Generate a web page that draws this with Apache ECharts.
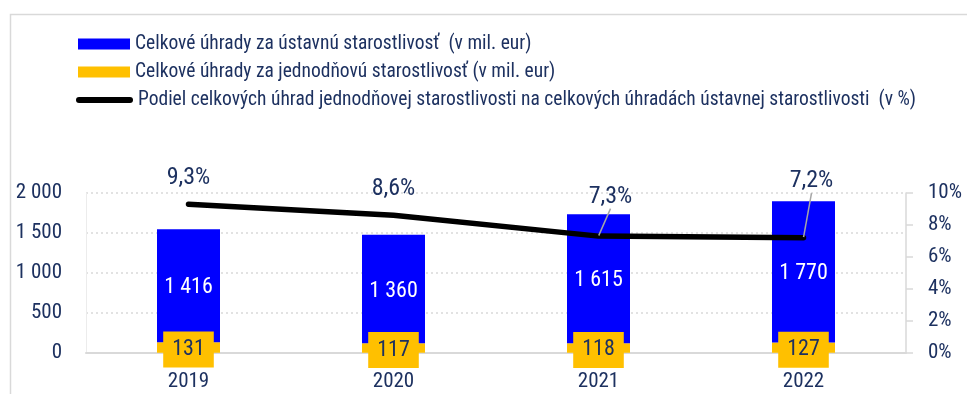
<!DOCTYPE html>
<html>
<head>
<meta charset="utf-8">
<script src="https://cdn.jsdelivr.net/npm/echarts@6/dist/echarts.min.js"></script>
<style>
  html, body { margin: 0; padding: 0; background: #ffffff; }
  #chart { width: 967px; height: 394px; }
</style>
</head>
<body>
<div id="chart"></div>
<script>
// Years on the category axis
const years = ['2019', '2020', '2021', '2022'];
// Payments for inpatient care excluding one-day care (mil. EUR)
const institutionalCare = [1416, 1360, 1615, 1770];
// Payments for one-day care (mil. EUR)
const oneDayCare = [131, 117, 118, 127];
// Share of one-day care in total inpatient payments (%)
const oneDayShare = [9.3, 8.6, 7.3, 7.2];
// Axis tick ranges
const leftAxisTicks = { min: 0, max: 2000, step: 500 };
const rightAxisTicks = { min: 0, max: 10, step: 2 };

// Series names shown in the legend
const nameInstitutional = 'Celkové úhrady za ústavnú starostlivosť  (v mil. eur)';
const nameOneDay = 'Celkové úhrady za jednodňovú starostlivosť (v mil. eur)';
const nameShare = 'Podiel celkových úhrad jednodňovej starostlivosti na celkových úhradách ústavnej starostlivosti  (v %)';

const NAVY = '#1d3160';
const NARROW = '"Roboto Condensed", "Liberation Sans Narrow", "Arial Narrow", sans-serif';

function spaced(v) {
  return String(v).replace(/\B(?=(\d{3})+(?!\d))/g, ' ');
}

// Displacement of the share labels that sit on leader lines
const shareLabelShift = { 2: [12, -13], 3: [8, -30] };

const chart = echarts.init(document.getElementById('chart'), null, { renderer: 'canvas' });

const legendText = { color: NAVY, fontFamily: NARROW, fontSize: 19.5 };

chart.setOption({
  animation: false,
  backgroundColor: '#ffffff',
  graphic: [{
    type: 'rect',
    shape: { x: 10.5, y: 14.5, width: 1000, height: 420 },
    style: { fill: 'none', stroke: '#d9d9d9', lineWidth: 1.5 },
    silent: true
  }],
  legend: [
    {
      data: [nameInstitutional], left: 73, top: 29,
      itemWidth: 52, itemHeight: 11, itemGap: 0,
      icon: 'rect', selectedMode: false, textStyle: legendText
    },
    {
      data: [nameOneDay], left: 73, top: 57,
      itemWidth: 52, itemHeight: 11, itemGap: 0,
      icon: 'rect', selectedMode: false, textStyle: legendText
    },
    {
      data: [nameShare], left: 71, top: 85,
      itemWidth: 57, itemHeight: 6, itemGap: 0,
      icon: 'path://M3,0 H54 A3,3 0 0 1 54,6 H3 A3,3 0 0 1 3,0 Z',
      selectedMode: false, textStyle: legendText
    }
  ],
  grid: { left: 86, right: 61, top: 193, bottom: 41.3 },
  xAxis: {
    type: 'category',
    data: years,
    axisLine: { show: true, lineStyle: { color: '#d9d9d9', width: 2 } },
    axisTick: { show: false },
    axisLabel: { color: NAVY, fontFamily: NARROW, fontSize: 21, margin: 19 }
  },
  yAxis: [
    {
      type: 'value',
      min: leftAxisTicks.min, max: leftAxisTicks.max, interval: leftAxisTicks.step,
      axisLine: { show: true, lineStyle: { color: '#ececec', width: 1 } },
      axisTick: { show: false },
      splitLine: { show: true, lineStyle: { color: '#d9d9d9', width: 1.5, type: [2, 3] } },
      axisLabel: {
        color: NAVY, fontFamily: NARROW, fontSize: 21, margin: 24,
        formatter: v => spaced(v)
      }
    },
    {
      type: 'value',
      position: 'right',
      min: rightAxisTicks.min, max: rightAxisTicks.max, interval: rightAxisTicks.step,
      axisLine: { show: true, lineStyle: { color: '#d9d9d9', width: 1.5 } },
      axisTick: { show: true, length: 7, lineStyle: { color: '#d9d9d9', width: 1.5 } },
      splitLine: { show: false },
      axisLabel: {
        color: NAVY, fontFamily: NARROW, fontSize: 21, margin: 22,
        formatter: v => v + '%'
      }
    }
  ],
  series: [
    {
      name: nameOneDay,
      type: 'bar',
      stack: 'payments',
      barWidth: 63,
      data: oneDayCare,
      itemStyle: { color: '#ffc000' },
      emphasis: { disabled: true },
      z: 2,
      label: {
        show: true,
        position: 'inside',
        offset: [0, 2],
        color: NAVY,
        fontFamily: NARROW,
        fontSize: 22,
        lineHeight: 22,
        backgroundColor: '#ffc000',
        padding: [7, 9, 7, 9],
        formatter: p => spaced(p.value)
      }
    },
    {
      name: nameInstitutional,
      type: 'bar',
      stack: 'payments',
      barWidth: 63,
      data: institutionalCare,
      itemStyle: { color: '#0000ff' },
      emphasis: { disabled: true },
      z: 2,
      label: {
        show: true,
        position: 'inside',
        offset: [0, 2],
        color: '#ffffff',
        fontFamily: NARROW,
        fontSize: 22,
        formatter: p => spaced(p.value)
      }
    },
    {
      name: nameShare,
      type: 'line',
      yAxisIndex: 1,
      data: oneDayShare.map((v, i) => ({
        value: v,
        labelLine: { show: i in shareLabelShift }
      })),
      symbol: 'circle',
      symbolSize: 1,
      showSymbol: true,
      itemStyle: { color: '#000000' },
      lineStyle: { color: '#000000', width: 5.5, cap: 'round', join: 'round' },
      emphasis: { disabled: true },
      z: 5,
      label: {
        show: true,
        position: 'top',
        distance: 14,
        color: NAVY,
        fontFamily: NARROW,
        fontSize: 24,
        formatter: p => p.value.toFixed(1).replace('.', ',') + '%'
      },
      labelLine: {
        show: true,
        lineStyle: { color: '#a6a6a6', width: 1.5 }
      },
      labelLayout: params => {
        const s = shareLabelShift[params.dataIndex];
        return s ? { dx: s[0], dy: s[1] } : {};
      }
    }
  ]
});
</script>
</body>
</html>
